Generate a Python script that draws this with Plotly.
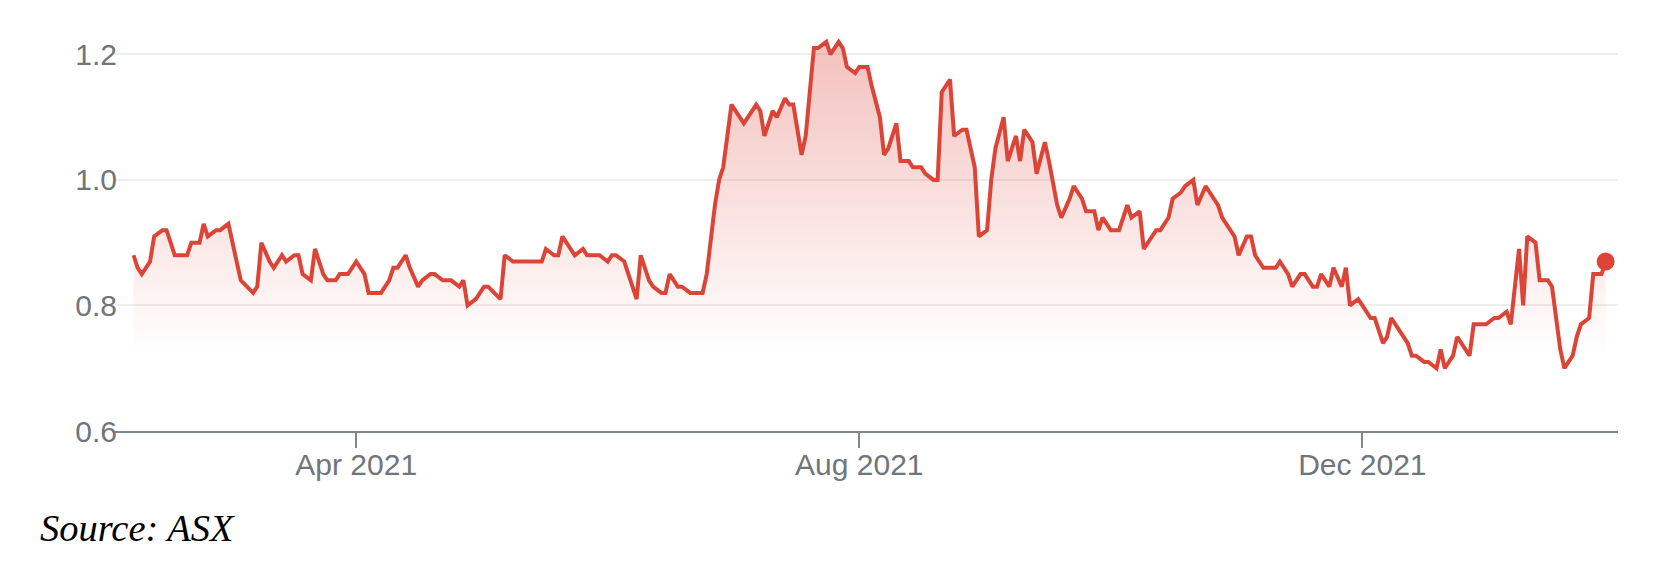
import plotly.graph_objects as go

# daily closes (only the turning points)
dates = [
    "2021-02-06", "2021-02-07", "2021-02-08", "2021-02-10", "2021-02-11", "2021-02-13", "2021-02-14",
    "2021-02-16", "2021-02-19", "2021-02-20", "2021-02-22", "2021-02-23", "2021-02-24", "2021-02-26",
    "2021-02-27", "2021-03-01", "2021-03-04", "2021-03-07", "2021-03-08", "2021-03-09", "2021-03-11",
    "2021-03-12", "2021-03-14", "2021-03-15", "2021-03-17", "2021-03-18", "2021-03-19", "2021-03-21",
    "2021-03-22", "2021-03-24", "2021-03-25", "2021-03-27", "2021-03-28", "2021-03-30", "2021-04-01",
    "2021-04-03", "2021-04-04", "2021-04-07", "2021-04-09", "2021-04-10", "2021-04-11", "2021-04-13",
    "2021-04-14", "2021-04-16", "2021-04-17", "2021-04-19", "2021-04-20", "2021-04-22", "2021-04-24",
    "2021-04-26", "2021-04-27", "2021-04-28", "2021-04-30", "2021-05-02", "2021-05-03", "2021-05-06",
    "2021-05-07", "2021-05-09", "2021-05-16", "2021-05-17", "2021-05-19", "2021-05-20", "2021-05-21",
    "2021-05-23", "2021-05-24", "2021-05-26", "2021-05-27", "2021-05-30", "2021-06-01", "2021-06-02",
    "2021-06-03", "2021-06-05", "2021-06-06", "2021-06-08", "2021-06-09", "2021-06-11", "2021-06-12",
    "2021-06-14", "2021-06-15", "2021-06-16", "2021-06-18", "2021-06-19", "2021-06-21", "2021-06-24",
    "2021-06-25", "2021-06-27", "2021-06-28", "2021-06-29", "2021-07-01", "2021-07-02", "2021-07-04",
    "2021-07-05", "2021-07-07", "2021-07-08", "2021-07-09", "2021-07-11", "2021-07-12", "2021-07-14",
    "2021-07-15", "2021-07-16", "2021-07-18", "2021-07-19", "2021-07-21", "2021-07-22", "2021-07-24",
    "2021-07-25", "2021-07-27", "2021-07-28", "2021-07-29", "2021-07-31", "2021-08-01", "2021-08-03",
    "2021-08-04", "2021-08-06", "2021-08-07", "2021-08-08", "2021-08-10", "2021-08-11", "2021-08-13",
    "2021-08-14", "2021-08-16", "2021-08-17", "2021-08-19", "2021-08-20", "2021-08-21", "2021-08-23",
    "2021-08-24", "2021-08-26", "2021-08-27", "2021-08-29", "2021-08-30", "2021-09-01", "2021-09-02",
    "2021-09-03", "2021-09-05", "2021-09-06", "2021-09-08", "2021-09-09", "2021-09-10", "2021-09-12",
    "2021-09-13", "2021-09-15", "2021-09-16", "2021-09-18", "2021-09-19", "2021-09-21", "2021-09-22",
    "2021-09-24", "2021-09-25", "2021-09-27", "2021-09-28", "2021-09-29", "2021-10-01", "2021-10-03",
    "2021-10-05", "2021-10-06", "2021-10-08", "2021-10-09", "2021-10-11", "2021-10-12", "2021-10-13",
    "2021-10-15", "2021-10-16", "2021-10-18", "2021-10-19", "2021-10-21", "2021-10-22", "2021-10-24",
    "2021-10-25", "2021-10-27", "2021-10-28", "2021-10-29", "2021-10-31", "2021-11-01", "2021-11-03",
    "2021-11-04", "2021-11-05", "2021-11-07", "2021-11-10", "2021-11-11", "2021-11-13", "2021-11-14",
    "2021-11-16", "2021-11-17", "2021-11-19", "2021-11-20", "2021-11-21", "2021-11-23", "2021-11-24",
    "2021-11-26", "2021-11-27", "2021-11-28", "2021-11-30", "2021-12-01", "2021-12-03", "2021-12-04",
    "2021-12-06", "2021-12-07", "2021-12-08", "2021-12-10", "2021-12-12", "2021-12-13", "2021-12-14",
    "2021-12-16", "2021-12-17", "2021-12-19", "2021-12-20", "2021-12-21", "2021-12-23", "2021-12-24",
    "2021-12-26", "2021-12-27", "2021-12-28", "2021-12-31", "2022-01-02", "2022-01-03", "2022-01-05",
    "2022-01-06", "2022-01-08", "2022-01-09", "2022-01-10", "2022-01-12", "2022-01-13", "2022-01-15",
    "2022-01-16", "2022-01-18", "2022-01-19", "2022-01-21", "2022-01-22", "2022-01-23", "2022-01-25",
    "2022-01-26", "2022-01-28", "2022-01-29",
]

prices = [
    0.88, 0.86, 0.85, 0.87, 0.91, 0.92, 0.92,
    0.88, 0.88, 0.90, 0.90, 0.93, 0.91, 0.92,
    0.92, 0.93, 0.84, 0.82, 0.83, 0.90, 0.87,
    0.86, 0.88, 0.87, 0.88, 0.88, 0.85, 0.84,
    0.89, 0.85, 0.84, 0.84, 0.85, 0.85, 0.87,
    0.85, 0.82, 0.82, 0.84, 0.86, 0.86, 0.88,
    0.86, 0.83, 0.84, 0.85, 0.85, 0.84, 0.84,
    0.83, 0.84, 0.80, 0.81, 0.83, 0.83, 0.81,
    0.88, 0.87, 0.87, 0.89, 0.88, 0.88, 0.91,
    0.89, 0.88, 0.89, 0.88, 0.88, 0.87, 0.88,
    0.88, 0.87, 0.85, 0.81, 0.88, 0.84, 0.83,
    0.82, 0.82, 0.85, 0.83, 0.83, 0.82, 0.82,
    0.85, 0.96, 1.00, 1.02, 1.12, 1.11, 1.09,
    1.10, 1.12, 1.11, 1.07, 1.11, 1.10, 1.13,
    1.12, 1.12, 1.04, 1.07, 1.21, 1.21, 1.22,
    1.20, 1.22, 1.21, 1.18, 1.17, 1.18, 1.18,
    1.15, 1.10, 1.04, 1.05, 1.09, 1.03, 1.03,
    1.02, 1.02, 1.01, 1.00, 1.00, 1.14, 1.16,
    1.07, 1.08, 1.08, 1.02, 0.91, 0.92, 1.00,
    1.05, 1.10, 1.03, 1.07, 1.03, 1.08, 1.06,
    1.01, 1.06, 1.03, 0.96, 0.94, 0.97, 0.99,
    0.97, 0.95, 0.95, 0.92, 0.94, 0.92, 0.92,
    0.96, 0.94, 0.95, 0.89, 0.91, 0.92, 0.92,
    0.94, 0.97, 0.98, 0.99, 1.00, 0.96, 0.99,
    0.98, 0.96, 0.94, 0.93, 0.91, 0.88, 0.91,
    0.91, 0.88, 0.86, 0.86, 0.87, 0.85, 0.83,
    0.85, 0.85, 0.83, 0.83, 0.85, 0.83, 0.86,
    0.83, 0.86, 0.80, 0.81, 0.80, 0.78, 0.78,
    0.74, 0.75, 0.78, 0.76, 0.74, 0.72, 0.72,
    0.71, 0.71, 0.70, 0.73, 0.70, 0.72, 0.75,
    0.73, 0.72, 0.77, 0.77, 0.78, 0.78, 0.79,
    0.77, 0.89, 0.80, 0.91, 0.90, 0.84, 0.84,
    0.83, 0.73, 0.70, 0.72, 0.75, 0.77, 0.78,
    0.85, 0.85, 0.87,
]

tick_dates = ["2021-04-01", "2021-08-01", "2021-12-01"]
tick_labels = ["Apr 2021", "Aug 2021", "Dec 2021"]
y_ticks = [0.6, 0.8, 1.0, 1.2]

line_red = "#db4437"
label_grey = "#70757a"
axis_grey = "#80868b"

fig = go.Figure()

fig.add_trace(go.Scatter(
    x=dates,
    y=prices,
    mode="lines",
    line=dict(width=4, color=line_red),
    fill="tozeroy",
    fillgradient=dict(
        type="vertical",
        start=0.72,
        stop=1.22,
        colorscale=[[0, "rgba(219,68,55,0)"], [1, "rgba(219,68,55,0.33)"]],
    ),
    hoverinfo="skip",
))

# dot on the latest close
fig.add_trace(go.Scatter(
    x=dates[-1:],
    y=prices[-1:],
    mode="markers",
    marker=dict(size=18, color=line_red),
    hoverinfo="skip",
))

fig.update_xaxes(
    type="date",
    range=["2021-02-01 12:00", "2022-02-01"],
    tickvals=tick_dates,
    ticktext=tick_labels,
    ticks="outside",
    ticklen=15,
    tickwidth=2,
    tickcolor=axis_grey,
    ticklabelstandoff=-9,
    showline=True,
    linecolor=axis_grey,
    linewidth=2,
    showgrid=False,
    zeroline=False,
    tickfont=dict(family="Liberation Sans, Arial", size=30, color=label_grey),
)
fig.update_yaxes(
    range=[0.6, 1.25],
    tickvals=y_ticks,
    tickformat=".1f",
    showgrid=True,
    gridcolor="#eeeeee",
    gridwidth=1.5,
    zeroline=False,
    showline=False,
    ticks="",
    ticklabelstandoff=-3,
    tickfont=dict(family="Liberation Sans, Arial", size=30, color=label_grey),
)

fig.add_annotation(
    text="<i>Source: ASX</i>",
    xref="paper", yref="paper",
    x=-0.0512, y=-0.238,
    xanchor="left", yanchor="middle",
    showarrow=False,
    font=dict(family="Liberation Serif, Times New Roman", size=38.5, color="black"),
)

# the page body keeps its default 8px margin, so the figure is 8px smaller
fig.update_layout(
    width=1664,
    height=570,
    margin=dict(l=107, r=54, t=15, b=147),
    plot_bgcolor="white",
    paper_bgcolor="white",
    showlegend=False,
)

fig.write_html("out.html")
